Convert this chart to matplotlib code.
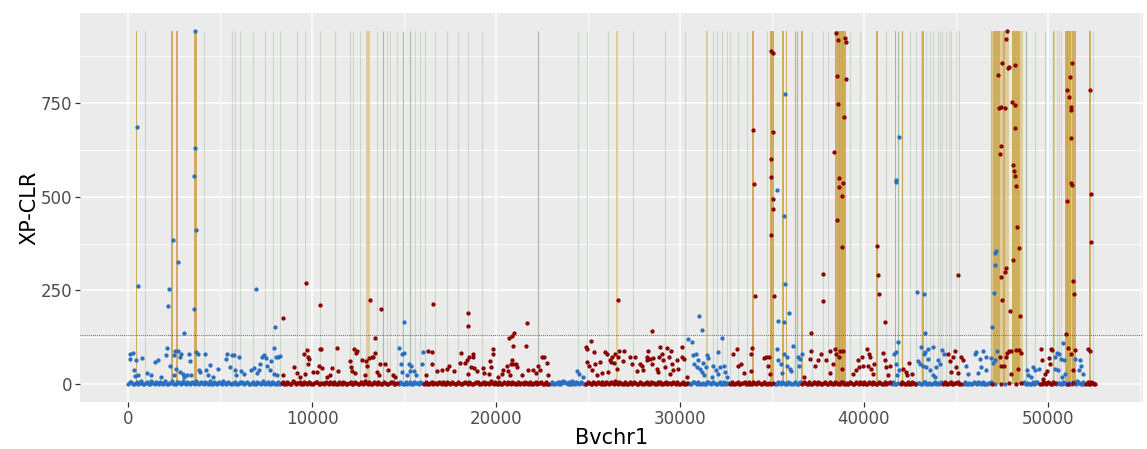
import matplotlib
matplotlib.use('Agg')
import matplotlib.pyplot as plt
from matplotlib.ticker import MultipleLocator

# XP-CLR scores along Bvchr1 (position, score)
blue_base = [(0, 2), (150, 5), (320, 1), (480, 7), (610, 3), (790, 0), (950, 4), (1120, 2), (1260, 8), (1430, 1),
             (1600, 3), (1740, 6), (1910, 2), (2080, 0), (2230, 4), (2400, 9), (2570, 2), (2720, 5), (2880, 1),
             (3050, 3), (3210, 7), (3380, 2), (3540, 4), (3700, 10), (3860, 1), (4030, 3), (4190, 6), (4340, 0),
             (4510, 2), (4680, 5), (4830, 1), (5000, 3), (5160, 8), (5320, 2), (5490, 4), (5650, 0), (5800, 6),
             (5970, 2), (6130, 3), (6290, 1), (6460, 5), (6620, 2), (6780, 7), (6940, 0), (7110, 3), (7270, 4),
             (7430, 1), (7590, 6), (7760, 2), (7920, 3), (8080, 0), (8240, 2),
             (14700, 1), (14850, 4), (15010, 2), (15170, 0), (15320, 5), (15480, 2), (15640, 3), (15800, 1), (15950, 4),
             (22950, 2), (23110, 0), (23270, 4), (23420, 1), (23580, 3), (23740, 6), (23890, 2), (24050, 0),
             (24210, 3), (24370, 5), (24520, 1), (24680, 4), (24820, 2),
             (30450, 3), (30610, 1), (30770, 5), (30920, 2), (31080, 0), (31240, 4), (31400, 2), (31550, 6),
             (31710, 1), (31870, 3), (32020, 0), (32180, 5), (32340, 2), (32500, 1), (32650, 4),
             (35180, 2), (35340, 5), (35500, 1), (35650, 3), (35810, 0), (35970, 4), (36130, 2), (36280, 6),
             (36440, 1), (36580, 3), (41530, 2), (41690, 0), (41850, 4),
             (42850, 1), (43010, 3), (43170, 0), (43320, 5), (43480, 2), (43640, 1), (43800, 4), (43950, 2),
             (44110, 0), (44260, 3), (45430, 2), (45590, 0), (45750, 4), (45900, 1), (46060, 3), (46220, 5),
             (46380, 0), (46530, 2), (46690, 1), (46850, 3), (47150, 2), (47700, 1),
             (48650, 3), (48800, 0), (48960, 4), (49120, 1), (49280, 2), (49430, 5),
             (50450, 1), (50610, 3), (50770, 0), (50920, 4), (51080, 2), (51240, 1), (51400, 5), (51550, 0),
             (51710, 3), (51870, 1), (52000, 2)]

blue_base2 = [(70, 6), (230, 0), (400, 3), (540, 1), (700, 9), (870, 2), (1040, 5), (1190, 0), (1350, 4),
              (1510, 7), (1670, 0), (1830, 4), (1990, 8), (2150, 1), (2320, 3), (2480, 0), (2640, 6), (2800, 3),
              (2960, 8), (3130, 0), (3290, 4), (3460, 6), (3620, 1), (3780, 3), (3940, 7), (4110, 0), (4260, 4),
              (4420, 8), (4590, 1), (4750, 3), (4910, 6), (5080, 0), (5240, 4), (5400, 7), (5570, 1), (5720, 3),
              (5880, 0), (6050, 5), (6210, 7), (6370, 3), (6540, 0), (6700, 4), (6860, 2), (7020, 6), (7190, 0),
              (7350, 8), (7510, 3), (7670, 0), (7840, 5), (8000, 2), (8160, 6),
              (14780, 6), (14930, 0), (15090, 7), (15250, 3), (15400, 0), (15560, 6), (15720, 4), (15880, 7),
              (23030, 5), (23190, 2), (23350, 7), (23500, 0), (23660, 5), (23820, 3), (23970, 7), (24130, 1),
              (24290, 0), (24450, 3), (24600, 6), (24760, 0),
              (30530, 0), (30690, 6), (30850, 3), (31000, 7), (31160, 2), (31320, 0), (31480, 5), (31630, 3),
              (31790, 6), (31950, 1), (32100, 4), (32260, 0), (32420, 6), (32580, 3),
              (35260, 0), (35420, 3), (35580, 6), (35730, 1), (35890, 5), (36050, 0), (36210, 4), (36360, 2),
              (36510, 6), (41610, 5), (41770, 2), (42930, 4), (43090, 0), (43250, 6), (43400, 2), (43560, 4),
              (43720, 0), (43870, 6), (44030, 3), (44190, 5), (45510, 5), (45670, 2), (45830, 0), (45980, 6),
              (46140, 1), (46300, 3), (46460, 6), (46610, 0), (46770, 4), (48720, 5), (48880, 2), (49040, 0),
              (49200, 5), (49360, 3), (50530, 4), (50690, 0), (50840, 6), (51000, 1), (51160, 4), (51320, 0),
              (51480, 3), (51630, 6), (51790, 2), (51940, 5)]

blue_mid = [(110, 81), (250, 83), (70, 67), (435, 64), (760, 70), (290, 39), (510, 26), (380, 21), (1010, 30),
            (1230, 26), (1430, 59), (1590, 64), (1780, 19), (2100, 97), (2070, 79), (2250, 48), (2460, 77),
            (2460, 26), (2550, 88), (2680, 88), (2610, 41), (2790, 73), (2860, 81), (2830, 33), (2970, 28),
            (3040, 19), (3190, 26), (3280, 80), (3330, 62), (3410, 24), (3700, 86), (3770, 81), (3820, 37),
            (3910, 33), (4190, 80), (4240, 37), (4310, 24), (4460, 51), (4600, 19), (4860, 41), (5290, 67),
            (5360, 82), (5510, 46), (5640, 79), (5760, 79), (5820, 37), (5870, 24), (6020, 74), (6120, 35),
            (6270, 28), (6670, 39), (6810, 44), (6990, 30), (7090, 37), (7140, 55), (7270, 74), (7390, 79),
            (7480, 70), (7540, 48), (7680, 37), (7760, 62), (7900, 96), (8010, 74), (8120, 74), (8260, 76),
            (7900, 28), (8080, 26),
            (14730, 97), (14870, 80), (15020, 83), (14840, 53), (14910, 33), (15150, 26), (15270, 53),
            (15380, 50), (15330, 35), (15560, 35), (15640, 24), (16050, 86), (16000, 55),
            (24420, 35), (24500, 28), (24710, 19), (24120, 10), (23660, 10), (23480, 6),
            (30730, 77), (30850, 80), (31000, 65), (30780, 55), (30910, 46), (31090, 41), (31270, 57),
            (31180, 33), (31450, 77), (31540, 71), (31420, 46), (31320, 24), (31810, 50), (31940, 39),
            (32090, 86), (32180, 46), (32380, 48), (32450, 33), (32050, 28), (31720, 19), (32540, 19),
            (35290, 94), (35350, 65), (35490, 55), (35670, 80), (35850, 74), (35850, 50), (35980, 41),
            (36160, 101), (36070, 35), (36400, 74), (36530, 68), (36620, 80), (36470, 50), (35560, 30),
            (41630, 80), (41780, 86), (41740, 55), (41920, 37), (41810, 24),
            (43140, 99), (43320, 86), (43500, 95), (43740, 99), (43260, 80), (42960, 62), (43050, 53),
            (43230, 50), (43370, 46), (43500, 68), (43590, 37), (43770, 26), (44040, 64), (44130, 55),
            (43950, 46), (44280, 92), (44350, 80), (43860, 19),
            (45580, 50), (45670, 28), (46040, 81), (46130, 86), (46490, 90), (46310, 68), (46400, 46),
            (46670, 37), (46220, 30), (46670, 72), (46940, 71), (47030, 56), (47270, 90), (47120, 64), (46900, 6),
            (48900, 37), (48930, 26), (49210, 46), (49300, 37), (49510, 41), (49120, 19), (49390, 6),
            (50420, 72), (50530, 83), (50600, 80), (50710, 68), (50380, 41), (50560, 37), (50840, 110),
            (50890, 65), (50930, 28), (50780, 19), (51510, 68), (51740, 65), (51830, 50), (51690, 37),
            (51920, 28), (51620, 10)]

blue_high = [(470, 686), (3640, 940), (3620, 629), (3590, 556), (3700, 411), (525, 261), (2410, 385), (2680, 325),
             (2230, 255), (6970, 253), (2140, 209), (3550, 201), (3010, 136), (7990, 152), (15010, 166),
             (31040, 181), (31200, 145), (30460, 122), (30640, 112), (32270, 124), (35730, 773), (35260, 518),
             (35650, 448), (35710, 267), (35940, 189), (35330, 169), (35660, 166), (41740, 544), (41780, 538),
             (41920, 660), (42870, 245), (43300, 241), (43320, 136), (41870, 112), (47120, 350), (47210, 354),
             (47140, 318), (47070, 244), (47000, 152)]

red_base = [(8350, 3), (8480, 1), (8620, 5), (8790, 2), (8930, 8), (9100, 0), (9240, 4), (9410, 2), (9560, 6),
            (9720, 1), (9870, 3), (10040, 0), (10190, 5), (10350, 2), (10500, 4), (10670, 1), (10820, 3),
            (10980, 7), (11130, 0), (11300, 2), (11450, 5), (11610, 1), (11770, 3), (11920, 0), (12090, 6),
            (12240, 2), (12400, 4), (12560, 1), (12710, 3), (12870, 8), (13030, 0), (13190, 2), (13340, 5),
            (13500, 1), (13660, 3), (13810, 0), (13970, 4), (14130, 2), (14290, 6), (14440, 1), (14590, 3),
            (16100, 2), (16260, 0), (16420, 4), (16570, 1), (16730, 3), (16890, 6), (17040, 0), (17200, 2),
            (17360, 5), (17510, 1), (17670, 3), (17830, 0), (17990, 4), (18140, 2), (18300, 7), (18460, 1),
            (18610, 3), (18770, 0), (18930, 5), (19080, 2), (19240, 4), (19400, 1), (19550, 3), (19710, 8),
            (19870, 0), (20030, 2), (20180, 5), (20340, 1), (20500, 3), (20650, 6), (20810, 0), (20970, 4),
            (21120, 2), (21280, 1), (21440, 3), (21600, 5), (21750, 0), (21910, 2), (22070, 4), (22220, 1),
            (22380, 3), (22540, 0), (22700, 5), (22850, 2),
            (24900, 1), (25060, 4), (25220, 0), (25370, 3), (25530, 6), (25690, 1), (25840, 2), (26000, 5),
            (26160, 0), (26320, 3), (26470, 8), (26630, 1), (26790, 4), (26940, 0), (27100, 2), (27260, 5),
            (27420, 1), (27570, 3), (27730, 0), (27890, 4), (28040, 2), (28200, 6), (28360, 1), (28520, 3),
            (28670, 0), (28830, 5), (28990, 2), (29140, 4), (29300, 1), (29460, 3), (29620, 7), (29770, 0),
            (29930, 2), (30090, 4), (30250, 1), (30380, 3),
            (32740, 2), (32900, 0), (33060, 4), (33210, 1), (33370, 3), (33530, 6), (33690, 0), (33840, 2),
            (34000, 5), (34160, 1), (34310, 3), (34470, 0), (34630, 4), (34790, 2), (34940, 1), (35080, 3),
            (36650, 1), (36810, 4), (36970, 0), (37120, 2), (37280, 5), (37440, 1), (37600, 3), (37750, 0),
            (37910, 6), (38070, 2), (38220, 4), (38380, 1), (38540, 3), (38700, 0), (38850, 5), (39010, 2),
            (39170, 1), (39330, 4), (39480, 0), (39640, 3), (39800, 7), (39950, 1), (40110, 2), (40270, 5),
            (40430, 0), (40580, 3), (40740, 1), (40900, 4), (41050, 2), (41210, 0), (41370, 3),
            (42000, 1), (42160, 4), (42310, 0), (42470, 2), (42630, 5), (42780, 1),
            (44330, 2), (44490, 0), (44650, 4), (44800, 1), (44960, 3), (45120, 6), (45280, 0),
            (47000, 2), (47450, 0), (47900, 3), (48300, 1), (48550, 4),
            (49600, 2), (49760, 5), (49920, 0), (50080, 3), (50230, 1), (50380, 4), (51110, 1), (51380, 3),
            (52100, 2), (52250, 0), (52400, 3), (52500, 1), (52560, 0)]

red_base2 = [(8420, 6), (8550, 0), (8700, 4), (8860, 1), (9020, 5), (9170, 3), (9330, 7), (9490, 0), (9640, 3),
             (9800, 6), (9950, 1), (10110, 4), (10270, 7), (10420, 0), (10590, 3), (10740, 6), (10900, 0),
             (11060, 4), (11210, 6), (11380, 1), (11530, 3), (11690, 7), (11850, 2), (12010, 4), (12160, 0),
             (12320, 6), (12480, 2), (12640, 7), (12790, 0), (12950, 4), (13110, 6), (13270, 0), (13420, 3),
             (13580, 6), (13740, 2), (13890, 7), (14050, 0), (14210, 3), (14370, 5), (14520, 0),
             (16180, 6), (16340, 2), (16500, 7), (16650, 3), (16810, 0), (16970, 4), (17120, 6), (17280, 0),
             (17440, 3), (17590, 6), (17750, 1), (17910, 6), (18070, 0), (18220, 4), (18380, 3), (18540, 6),
             (18690, 0), (18850, 3), (19010, 7), (19160, 0), (19320, 6), (19480, 3), (19630, 0), (19790, 4),
             (19950, 6), (20110, 0), (20260, 2), (20420, 6), (20580, 0), (20730, 3), (20890, 6), (21050, 0),
             (21200, 5), (21360, 3), (21520, 0), (21680, 3), (21830, 6), (21990, 0), (22150, 6), (22300, 3),
             (22460, 6), (22620, 2), (22780, 0),
             (24980, 6), (25140, 0), (25300, 5), (25450, 1), (25610, 3), (25770, 6), (25920, 0), (26080, 3),
             (26240, 6), (26400, 0), (26550, 4), (26710, 6), (26860, 2), (27020, 6), (27180, 0), (27340, 3),
             (27490, 6), (27650, 0), (27810, 6), (27960, 1), (28120, 3), (28280, 0), (28440, 6), (28590, 4),
             (28750, 1), (28910, 7), (29060, 0), (29220, 6), (29380, 3), (29540, 0), (29700, 4), (29850, 6),
             (30010, 0), (30170, 6), (30320, 0),
             (32820, 5), (32980, 2), (33140, 6), (33290, 0), (33450, 4), (33610, 2), (33760, 5), (33920, 0),
             (34080, 3), (34240, 6), (34390, 2), (34550, 5), (34710, 0), (34860, 4),
             (36730, 5), (36890, 2), (37040, 6), (37200, 0), (37360, 3), (37520, 6), (37680, 1), (37830, 4),
             (37990, 0), (38150, 6), (38300, 2), (38460, 5), (38620, 2), (38780, 6), (38930, 1), (39090, 4),
             (39250, 6), (39400, 2), (39560, 5), (39720, 0), (39870, 4), (40030, 6), (40190, 0), (40350, 3),
             (40510, 6), (40660, 2), (40820, 5), (40980, 0), (41130, 5), (41290, 3), (41440, 6),
             (42080, 5), (42240, 2), (42390, 6), (42550, 0), (42710, 3), (44410, 5), (44570, 2), (44720, 6),
             (44880, 0), (45040, 4), (45200, 2), (49680, 0), (49840, 3), (50000, 6), (50160, 0), (50310, 6),
             (52170, 5), (52330, 2), (52460, 4)]

red_mid = [(8410, 24), (9020, 46), (9170, 30), (9530, 80), (9710, 92), (9770, 72), (9840, 68), (9760, 53),
           (9620, 28), (9350, 19), (10070, 33), (10250, 33), (10440, 95), (10490, 95), (10380, 48), (10530, 44),
           (10800, 19), (11070, 44), (11340, 96), (11400, 35), (10980, 26), (12070, 62), (12120, 46), (12250, 93),
           (12430, 89), (12390, 83), (12190, 35), (12340, 30), (12700, 65), (12920, 62), (12970, 50), (12880, 26),
           (13100, 71), (13240, 72), (13390, 83), (13330, 72), (13520, 33), (13610, 26), (13700, 53), (13970, 53),
           (14110, 37), (14420, 26), (14510, 19),
           (16320, 88), (16540, 86), (16510, 53), (16200, 26), (16780, 35), (17050, 37), (17320, 41), (17450, 50),
           (17740, 35), (18050, 57), (18080, 84), (18320, 57), (18410, 64), (18540, 72), (18640, 46), (18500, 28),
           (18770, 80), (18730, 74), (18810, 44), (18990, 35), (19310, 44), (19350, 30), (19710, 46), (19680, 62),
           (19860, 94), (19820, 80), (19640, 28), (20130, 19), (20310, 28), (20400, 37), (20580, 50), (20670, 35),
           (20850, 65), (20800, 53), (20940, 55), (21090, 53), (21160, 46), (20760, 26), (21400, 24), (21760, 39),
           (22000, 39), (22180, 30), (22300, 50), (22390, 37), (22480, 74), (22610, 72), (22760, 57), (22850, 24),
           (24970, 59), (25040, 50), (25330, 86), (25380, 55), (25200, 37), (25470, 26), (25660, 59), (25750, 30),
           (25930, 85), (26050, 81), (26110, 33), (26200, 64), (26240, 59), (26290, 72), (26420, 57), (26470, 80),
           (26560, 41), (26650, 72), (26710, 90), (26960, 90), (26890, 62), (27290, 72), (27380, 55), (27560, 72),
           (27650, 35), (27830, 55), (27920, 48), (28010, 39), (28280, 90), (28230, 65), (28190, 72), (28370, 68),
           (28550, 71), (28460, 55), (28730, 41), (28910, 99), (28860, 72), (29010, 80), (29100, 64), (28820, 33),
           (29190, 46), (29280, 97), (29510, 90), (29400, 72), (29550, 55), (29640, 39), (29460, 28), (29820, 64),
           (29910, 41), (30130, 99), (30090, 74), (30240, 68), (30360, 19),
           (32900, 81), (33080, 95), (33170, 48), (33350, 55), (33500, 30), (33900, 97), (33860, 80), (33860, 35),
           (34590, 71), (34710, 72), (34840, 74), (34800, 48), (34890, 28),
           (36760, 19), (37070, 68), (37340, 48), (37490, 64), (37120, 90), (37700, 81), (37970, 64), (38190, 89),
           (38430, 95), (38480, 80), (38340, 53), (38150, 30), (38660, 72), (38730, 89), (38880, 90), (38840, 41),
           (39420, 28), (39570, 37), (39690, 65), (39750, 46), (39880, 72), (39970, 50), (40150, 95), (40290, 80),
           (40360, 72), (40240, 50), (40420, 41), (40510, 28), (40550, 55), (41050, 83), (41140, 64), (41230, 46),
           (41330, 26), (41450, 50),
           (42140, 41), (42290, 33), (42470, 57), (42360, 24), (42650, 28),
           (44590, 80), (44710, 62), (44860, 72), (44950, 90), (45040, 46), (44770, 33), (45130, 30), (45310, 72),
           (45400, 64),
           (47390, 74), (47450, 48), (47630, 48), (47760, 72), (47880, 89), (47990, 90), (47810, 83), (48300, 92),
           (48430, 92), (48540, 83), (48390, 41), (48030, 28),
           (49620, 95), (49700, 65), (49840, 28), (49990, 35), (50060, 71), (50110, 53), (50170, 95), (50240, 92),
           (49750, 15), (49930, 3), (51110, 97), (51510, 92), (51250, 81), (51380, 37), (52200, 95), (52290, 89),
           (52340, 6)]

red_high = [(8410, 176), (9670, 270), (10400, 212), (13120, 225), (13750, 201), (13420, 124), (16580, 215),
            (18460, 190), (18450, 156), (21710, 163), (21000, 136), (20850, 130), (20730, 123), (21610, 101),
            (20910, 101), (26610, 225), (25150, 115), (24890, 99), (24970, 93), (28460, 143), (33990, 678),
            (34030, 533), (34080, 234), (34980, 887), (35040, 883), (35070, 671), (34930, 600), (34980, 551),
            (35070, 494), (35040, 467), (34980, 398), (35110, 236), (37120, 136), (37760, 294), (37760, 222),
            (38480, 935), (38610, 917), (38970, 922), (39020, 913), (38550, 822), (39020, 813), (38590, 746),
            (38920, 711), (38370, 618), (38660, 549), (38630, 525), (38880, 537), (38840, 501), (38550, 439),
            (38840, 367), (40730, 368), (40780, 292), (40820, 241), (41140, 166), (45150, 290), (47800, 942),
            (47760, 919), (47510, 856), (47310, 824), (47850, 842), (47900, 844), (48250, 850), (47340, 736),
            (47490, 739), (47670, 735), (48080, 751), (48230, 744), (48210, 682), (47450, 634), (47430, 614),
            (48120, 584), (48160, 568), (48210, 555), (48300, 529), (48360, 418), (48430, 364), (48120, 331),
            (47720, 310), (47670, 298), (47490, 285), (47540, 225), (47980, 196), (48520, 183), (51350, 857),
            (51240, 818), (51070, 783), (51150, 765), (51260, 738), (51260, 730), (51290, 655), (51290, 535),
            (51330, 532), (51040, 489), (51380, 276), (51420, 241), (51020, 134), (52290, 784), (52340, 506),
            (52380, 378)]

# candidate windows (start, end)
gold_win = [(400, 490), (2340, 2430), (2590, 2680), (3550, 3650), (3620, 3750), (33940, 34030), (34880, 35000),
            (34960, 35110), (35560, 35650), (35760, 35850), (36580, 36670), (38420, 38560), (38520, 38700),
            (38680, 38850), (38820, 39020), (40680, 40770), (41680, 41770), (42060, 42150), (43180, 43270),
            (47010, 47400), (47550, 47700), (48050, 48500), (50930, 51100), (51060, 51250), (51300, 51520),
            (52250, 52360)]
light_gold_win = [(12940, 13150), (26540, 26630), (31430, 31520), (45180, 45260), (46900, 47010), (47400, 47550),
                  (47700, 47900), (48500, 48650), (50330, 50400), (50500, 50560), (50640, 50700), (51230, 51300)]
green_lines = [924, 4131, 5636, 5815, 6087, 6794, 7446, 7881, 8261, 9169, 9620, 10435, 11250, 12066, 12229, 12609,
               13517, 14060, 14240, 14604, 15598, 15870, 16142, 16685, 17321, 17952, 18495, 19224, 24458, 24930,
               26104, 27447, 29186, 30273, 31795, 31996, 32268, 32540, 32719, 33170, 33627, 34714, 37159, 37790,
               38061, 39241, 39784, 41235, 42502, 42866, 43100, 43409, 43600, 43768, 44040, 44150, 44279, 44497,
               44650, 44768, 45040, 49295, 49838, 50746, 52463]
green_strong = [13843, 14963, 15327, 22300, 36253, 36378, 41850, 42105, 46942, 48844, 50289]
threshold = 132

blue = "#2B6FC0"
red = "#8B0000"

blue_pts = blue_base + blue_base2 + blue_mid + blue_high
red_pts = red_base + red_base2 + red_mid + red_high
all_y = [p[1] for p in blue_pts + red_pts]
all_x = [p[0] for p in blue_pts + red_pts]
ymax = max(all_y)

fig = plt.figure(figsize=(11.47, 4.49), dpi=100)
ax = fig.add_axes([80 / 1147, 47 / 449, 1063 / 1147, 389 / 449])
ax.set_facecolor("#EBEBEB")
for s in ax.spines.values():
    s.set_visible(False)

ax.vlines(green_lines, 0, ymax, color="#8DB08F", alpha=0.35, lw=0.8, zorder=1)
ax.vlines(green_strong, 0, ymax, color="#7FA887", alpha=0.65, lw=0.9, zorder=1)
ax.bar([w[0] for w in light_gold_win], ymax, width=[w[1] - w[0] for w in light_gold_win], align='edge',
       color="#D9BF7A", alpha=0.7, lw=0, zorder=1.5)
ax.bar([w[0] for w in gold_win], ymax, width=[w[1] - w[0] for w in gold_win], align='edge',
       color="#C9A445", alpha=0.85, lw=0, zorder=2)

ax.axhline(threshold, color="#444444", ls=(0, (1, 1.5)), lw=0.6, zorder=2.5)

ax.scatter([p[0] for p in blue_pts], [p[1] for p in blue_pts], s=9.5, color=blue, lw=0, zorder=3)
ax.scatter([p[0] for p in red_pts], [p[1] for p in red_pts], s=9.5, color=red, lw=0, zorder=3)

xr = max(all_x) - min(all_x)
ax.set_xlim(min(all_x) - 0.05 * xr, max(all_x) + 0.05 * xr)
ax.set_ylim(-0.05 * ymax, ymax * 1.05)

ax.xaxis.set_major_locator(MultipleLocator(10000))
ax.xaxis.set_minor_locator(MultipleLocator(5000))
ax.yaxis.set_major_locator(MultipleLocator(250))
ax.yaxis.set_minor_locator(MultipleLocator(125))
ax.set_axisbelow(True)
ax.grid(which='major', color='white', lw=1.1)
ax.grid(which='minor', color='white', lw=0.55)
ax.tick_params(which='major', length=3.5, width=0.9, color='#333333', labelsize=12, labelcolor='#4D4D4D', pad=2)
ax.tick_params(which='minor', length=0)

ax.set_xlabel("Bvchr1", fontsize=15, labelpad=0)
ax.set_ylabel("XP-CLR", fontsize=15, labelpad=1)

plt.savefig("out.png", dpi=100)
